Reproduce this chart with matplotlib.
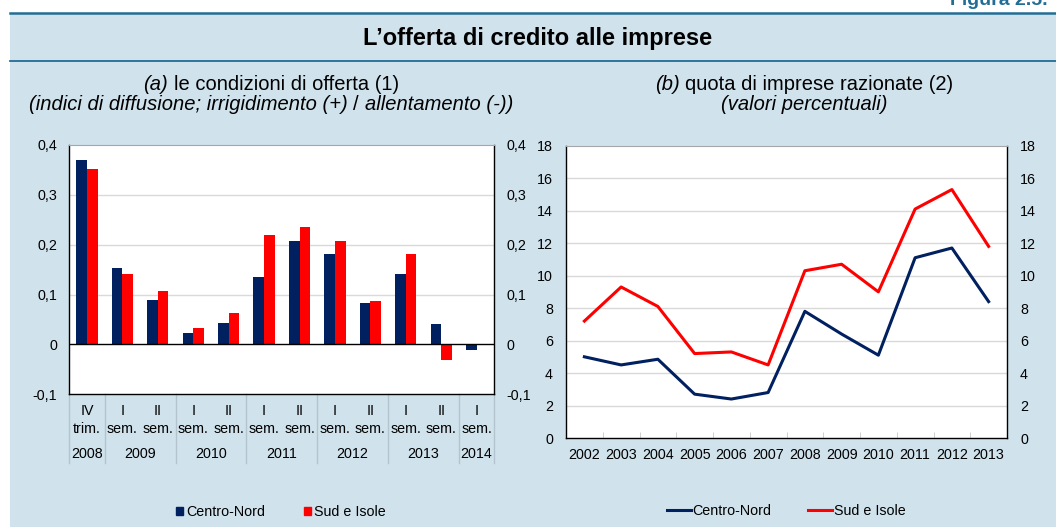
import matplotlib
matplotlib.use('Agg')
import matplotlib.pyplot as plt
from matplotlib.patches import Rectangle, Patch
from matplotlib.lines import Line2D
import numpy as np

# ---------------- data ----------------
period_row1 = ["IV", "I", "II", "I", "II", "I", "II", "I", "II", "I", "II", "I"]
period_row2 = ["trim."] + ["sem."] * 11
years_a = ["2008", "2009", "2010", "2011", "2012", "2013", "2014"]
periods_per_year = [1, 2, 2, 2, 2, 2, 1]
cn_supply = [0.370, 0.153, 0.090, 0.022, 0.044, 0.135, 0.207, 0.181, 0.084, 0.141, 0.040, -0.012]
sud_supply = [0.351, 0.141, 0.108, 0.032, 0.064, 0.219, 0.235, 0.207, 0.087, 0.181, -0.031, -0.002]
yticks_a = [-0.1, 0.0, 0.1, 0.2, 0.3, 0.4]
ylabels_a = ["-0,1", "0", "0,1", "0,2", "0,3", "0,4"]

years_b = ["2002", "2003", "2004", "2005", "2006", "2007", "2008", "2009", "2010", "2011", "2012", "2013"]
cn_rationed = [5.0, 4.5, 4.85, 2.7, 2.4, 2.8, 7.8, 6.4, 5.1, 11.1, 11.7, 8.4]
sud_rationed = [7.2, 9.3, 8.1, 5.2, 5.3, 4.5, 10.3, 10.7, 9.0, 14.1, 15.3, 11.8]
yticks_b = [0, 2, 4, 6, 8, 10, 12, 14, 16, 18]

series_names = ["Centro-Nord", "Sud e Isole"]

# ---------------- style ----------------
plt.rcParams['font.family'] = ['Liberation Sans', 'DejaVu Sans']
NAVY = '#002060'
RED = '#ff0000'
BG = '#d0e2ec'
TEAL = '#236d94'
GRID = '#d9d9d9'
SEP = '#b4c4ce'
FS = 10.3

W, H = 1056, 528
fig = plt.figure(figsize=(W / 100, H / 100), dpi=100)
fig.patch.set_facecolor('white')


def fx(x):
    return x / W


def fy(y):
    return 1 - y / H


fig.add_artist(Rectangle((fx(10), fy(527)), 1 - fx(10), fy(12.5) - fy(527),
                         transform=fig.transFigure, facecolor=BG, edgecolor='none', zorder=-10))
fig.add_artist(Line2D([fx(10), 1], [fy(12.5)] * 2, color=TEAL, lw=1.8, zorder=-5))
fig.add_artist(Line2D([fx(10), 1], [fy(61)] * 2, color=TEAL, lw=1.3, zorder=-5))

fig.text(fx(950), fy(5), "Figura 2.5.", fontsize=14, fontweight='bold', color=TEAL,
         ha='left', va='baseline')
fig.text(fx(538), fy(45), "L\u2019offerta di credito alle imprese", fontsize=17,
         fontweight='bold', ha='center', va='baseline')

renderer = fig.canvas.get_renderer()


def rich_line(pieces, cx, ybase, size):
    # pieces: list of (text, style); single spaces between pieces are added
    probe1 = fig.text(0, 0, "x x", fontsize=size)
    probe2 = fig.text(0, 0, "xx", fontsize=size)
    sp = probe1.get_window_extent(renderer).width - probe2.get_window_extent(renderer).width
    probe1.remove()
    probe2.remove()
    texts, widths = [], []
    for s, st in pieces:
        t = fig.text(0, 0, s, fontsize=size, style=st, ha='left', va='baseline')
        texts.append(t)
        widths.append(t.get_window_extent(renderer).width)
    total = sum(widths) + sp * (len(pieces) - 1)
    x = cx - total / 2
    for t, w in zip(texts, widths):
        t.set_position((fx(x), fy(ybase)))
        x += w + sp


SUB = 14.5
rich_line([("(a)", 'italic'), ("le condizioni di offerta (1)", 'normal')], 271, 90, SUB)
rich_line([("(indici di diffusione; irrigidimento (+)", 'italic'), ("/", 'normal'),
           ("allentamento (-))", 'italic')], 271, 110, SUB)
rich_line([("(b)", 'italic'), ("quota di imprese razionate (2)", 'normal')], 804, 90, SUB)
rich_line([("(valori percentuali)", 'italic')], 804, 110, SUB)

# ---------------- panel (a) ----------------
axL = fig.add_axes([fx(69.3), fy(394.3), fx(494.3) - fx(69.3), fy(145) - fy(394.3)])
xa = np.arange(len(cn_supply))
bw = 0.30
axL.bar(xa - bw / 2, cn_supply, width=bw, color=NAVY, zorder=3)
axL.bar(xa + bw / 2, sud_supply, width=bw, color=RED, zorder=3)
axL.set_xlim(-0.5, len(cn_supply) - 0.5)
axL.set_ylim(yticks_a[0], yticks_a[-1])
axL.set_yticks(yticks_a)
axL.set_yticklabels(ylabels_a)
axL.tick_params(axis='y', length=0, pad=8.5, labelsize=FS, labelright=True)
axL.set_xticks([])
for v in yticks_a[1:-1]:
    if v != 0:
        axL.axhline(v, color=GRID, lw=1, zorder=1)
axL.axhline(0, color='black', lw=1, zorder=4)
for s in ['left', 'right', 'bottom']:
    axL.spines[s].set_color('black')
    axL.spines[s].set_linewidth(1)
axL.spines['top'].set_color('#a6a6a6')

tr = axL.get_xaxis_transform()
for i, (r1, r2) in enumerate(zip(period_row1, period_row2)):
    axL.text(i, -0.067, r1, transform=tr, ha='center', va='center', fontsize=FS)
    axL.text(i, -0.139, r2, transform=tr, ha='center', va='center', fontsize=FS)
edges = np.concatenate([[0], np.cumsum(periods_per_year)]) - 0.5
centers = (edges[:-1] + edges[1:]) / 2
for c, yl in zip(centers, years_a):
    axL.text(c, -0.240, yl, transform=tr, ha='center', va='center', fontsize=FS)
for e in edges:
    axL.plot([e, e], [0, -0.276], transform=tr, clip_on=False, color=SEP, lw=1)

fig.legend(handles=[Patch(color=NAVY, label=series_names[0]),
                    Patch(color=RED, label=series_names[1])],
           loc='center', bbox_to_anchor=(fx(281), fy(512)), ncol=2, frameon=False,
           fontsize=FS, handlelength=0.5, handleheight=0.5, handletextpad=0.2,
           columnspacing=2.7, borderpad=0, borderaxespad=0)

# ---------------- panel (b) ----------------
axR = fig.add_axes([fx(566), fy(438), fx(1007) - fx(566), fy(145.7) - fy(438)])
xb = np.arange(len(years_b))
axR.plot(xb, cn_rationed, color=NAVY, lw=2.2, zorder=3)
axR.plot(xb, sud_rationed, color=RED, lw=2.2, zorder=3)
axR.set_xlim(-0.5, len(years_b) - 0.5)
axR.set_ylim(yticks_b[0], yticks_b[-1])
axR.set_yticks(yticks_b)
axR.set_yticklabels([str(v) for v in yticks_b])
axR.set_xticks(xb)
axR.set_xticklabels(years_b)
axR.set_xticks(np.arange(0.5, len(years_b) - 1, 1), minor=True)
axR.tick_params(axis='x', which='major', length=0, pad=7, labelsize=FS)
axR.tick_params(axis='x', which='minor', length=4, direction='in', color='#c8c8c8')
axR.tick_params(axis='y', length=0, pad=9.4, labelsize=FS, labelright=True)
for v in yticks_b[1:-1]:
    axR.axhline(v, color=GRID, lw=1, zorder=1)
for s in ['left', 'right', 'bottom']:
    axR.spines[s].set_color('black')
    axR.spines[s].set_linewidth(1)
axR.spines['top'].set_color('#a6a6a6')

fig.legend(handles=[Line2D([], [], color=NAVY, lw=2.2, label=series_names[0]),
                    Line2D([], [], color=RED, lw=2.2, label=series_names[1])],
           loc='center', bbox_to_anchor=(fx(786), fy(511)), ncol=2, frameon=False,
           fontsize=FS, handlelength=1.68, handletextpad=0.14,
           columnspacing=2.5, borderpad=0, borderaxespad=0)

fig.savefig('out.png', dpi=100)
